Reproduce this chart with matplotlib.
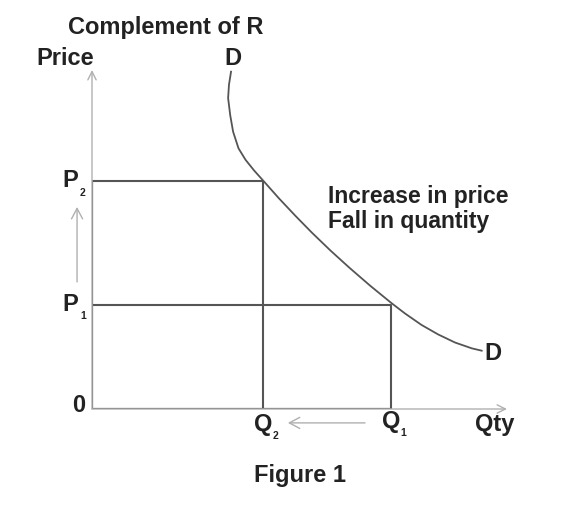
import matplotlib.pyplot as plt

# values (axis units 0..10)
P1, P2 = 3.07, 6.73
Q1, Q2 = 7.2, 4.13
demand_q = [3.35, 3.30, 3.28, 3.33, 3.40, 3.53, 3.70, 3.91, 4.13, 4.50,
            4.90, 5.30, 5.75, 6.20, 6.70, 7.22, 7.54, 7.94,
            8.34, 8.75, 9.15, 9.39]
demand_p = [9.95, 9.56, 9.17, 8.67, 8.18, 7.69, 7.35, 7.03, 6.73, 6.22,
            5.70, 5.20, 4.67, 4.17, 3.64, 3.12, 2.82, 2.48,
            2.20, 1.96, 1.79, 1.72]

plt.rcParams['font.family'] = ['Liberation Sans', 'DejaVu Sans']

fig = plt.figure(figsize=(5.72, 5.2), dpi=100)
ax = fig.add_axes([92 / 572, 111 / 520, 415 / 572, 339 / 520])
ax.set_xlim(0, 10)
ax.set_ylim(0, 10)
ax.axis('off')

light = '#b0b0b0'
dark = '#555555'
txt = '#222222'


def arrow(start, end, head=(0.6, 0.3)):
    style = '->,head_length=%s,head_width=%s' % head
    ax.annotate('', xy=end, xytext=start, annotation_clip=False,
                arrowprops=dict(arrowstyle=style, color=light, lw=1,
                                shrinkA=0, shrinkB=0))


# axes with open arrows
arrow((0, 0), (0, 10))
arrow((0, 0), (10, 0))

# price / quantity box lines
ax.plot([0, Q1, Q1], [P1, P1, 0], color=dark, lw=1.5, solid_capstyle='butt')
ax.plot([0, Q2, Q2], [P2, P2, 0], color=dark, lw=1.5, solid_capstyle='butt')
ax.plot([0, 0, Q1], [P2, 0, 0], color=dark, lw=1.6, solid_capstyle='butt')

# demand curve
ax.plot(demand_q, demand_p, color=dark, lw=1.3, clip_on=False,
        solid_joinstyle='round')

# shift arrows
arrow((-0.36, 3.75), (-0.36, 5.96), head=(0.75, 0.4))
arrow((6.58, -0.41), (4.72, -0.41), head=(0.75, 0.4))

fs = 17
kw = dict(color=txt, fontweight='bold', clip_on=False)
sub = dict(fontsize=7.5, ha='center', va='center', **kw)
big = dict(fontsize=fs, ha='center', va='center', **kw)

# tick-like labels
ax.text(-0.53, P2, 'P', **big)
ax.text(-0.22, P2 - 0.35, '2', **sub)
ax.text(-0.53, P1, 'P', **big)
ax.text(-0.22, P1 - 0.34, '1', **sub)
ax.text(-0.31, 0.1, '0', **big)
ax.text(Q2, -0.47, 'Q', **big)
ax.text(Q2 + 0.3, -0.8, '2', **sub)
ax.text(Q1, -0.38, 'Q', **big)
ax.text(Q1 + 0.3, -0.71, '1', **sub)
ax.text(9.71, -0.47, 'Qty', **big)

# titles and annotations
ax.text(-0.65, 10.35, 'Price', **big)
ax.text(1.77, 11.25, 'Complement of R', **big)
ax.text(3.40, 10.35, 'D', **big)
ax.text(9.66, 1.65, 'D', **big)
ax.text(5.69, 6.27, 'Increase in price', fontsize=16.5, ha='left', va='center', **kw)
ax.text(5.69, 5.54, 'Fall in quantity', fontsize=16.5, ha='left', va='center', **kw)
ax.text(5.01, -1.95, 'Figure 1', **big)

fig.savefig('out.png', dpi=100)
